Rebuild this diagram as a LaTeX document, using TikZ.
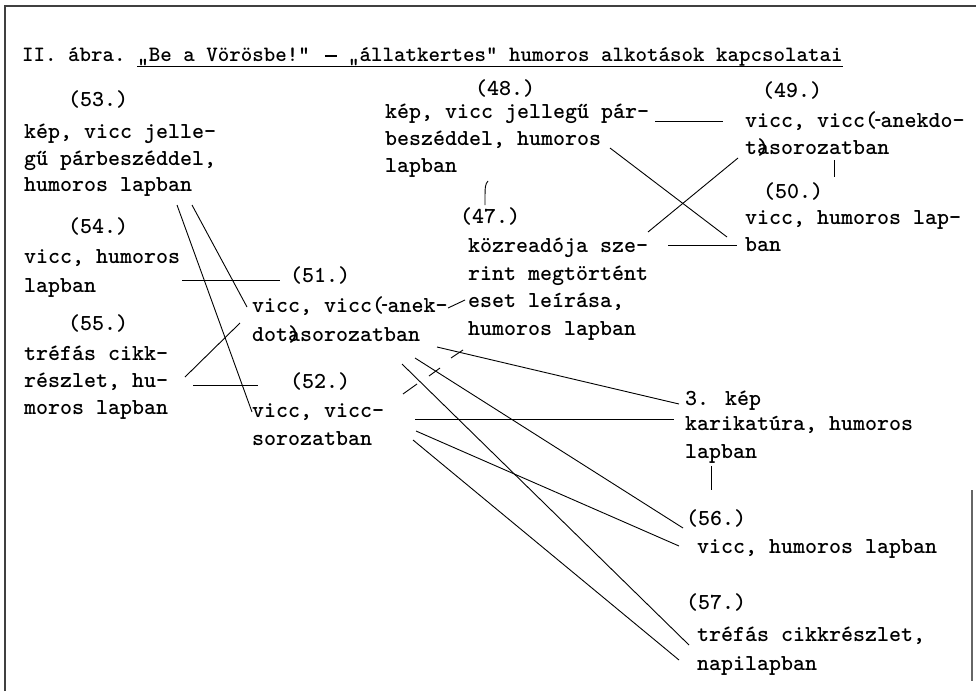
\documentclass[tikz,border=0pt]{standalone}
\usepackage{fontspec}
\usepackage{graphicx}
\newfontfamily\tw{lmmonolt10-bold.otf}
\newcommand\opd{(\kern-0.1em\makebox[0.25em]{\scalebox{0.55}[1]{-}}}
\newcommand\ap{\rlap{a})}
\newcommand\emd{\makebox[0.525em]{\rule[0.2em]{0.56em}{0.055em}}}
\begin{document}
\begin{tikzpicture}[x=1pt,y=-1pt,
  txt/.style={anchor=base west,inner sep=0pt,font=\tw\fontsize{22.86}{26}\selectfont},
  ttl/.style={anchor=base west,inner sep=0pt,font=\tw\fontsize{21.9}{25}\selectfont},
  con/.style={line width=0.9pt,black},
  frame/.style={line width=1.2pt,black!75}]
\useasboundingbox (0,0) rectangle (976,691);
% frame
\coordinate (f1) at (5,6); \coordinate (f2) at (976,6); \coordinate (f3) at (5,691);
\coordinate (f4) at (972,490); \coordinate (f5) at (972,681);
\draw[frame] (f3) -- (f1) -- (f2);
\draw[frame,black!60] (f4) -- (f5);
% title
\node[ttl] (title) at (22,61) {II. ábra.};
\node[ttl] (ttlu) at (137.2,61) {„Be a Vörösbe!” \emd{} „állatkertes” humoros alkotások kapcsolatai};
\draw[con] ([yshift=-5pt]ttlu.base west) -- ([yshift=-5pt]ttlu.base east);
% 48
\node[txt] (n48) at (475,95) {(48.)};
\node[txt] (t48a) at (385,118) {kép, vicc jellegű pár-};
\node[txt] (t48b) at (385,145) {beszéddel, humoros};
\node[txt] (t48c) at (385,172) {lapban};
% 49
\node[txt] (n49) at (762,97) {(49.)};
\node[txt] (t49a) at (745,127) {vicc, vicc\opd anekdo-};
\node[txt] (t49b) at (745,154) {t\ap sorozatban};
% 50
\node[txt] (n50) at (763,198) {(50.)};
\node[txt] (t50a) at (745,224) {vicc, humoros lap-};
\node[txt] (t50b) at (745,251) {ban};
% 47
\node[txt] (n47) at (460,223) {(47.)};
\node[txt] (t47a) at (468,252) {közreadója sze-};
\node[txt] (t47b) at (468,280) {rint megtörtént};
\node[txt] (t47c) at (468,307) {eset leírása,};
\node[txt] (t47d) at (468,335) {humoros lapban};
% 53
\node[txt] (n53) at (68,106) {(53.)};
\node[txt] (t53a) at (24,138) {kép, vicc jelle-};
\node[txt] (t53b) at (24,165) {gű párbeszéddel,};
\node[txt] (t53c) at (24,191) {humoros lapban};
% 54
\node[txt] (n54) at (68,233) {(54.)};
\node[txt] (t54a) at (24,263) {vicc, humoros};
\node[txt] (t54b) at (24,292) {lapban};
% 55
\node[txt] (n55) at (68,330) {(55.)};
\node[txt] (t55a) at (24,360) {tréfás cikk-};
\node[txt] (t55b) at (24,387) {részlet, hu-};
\node[txt] (t55c) at (24,414) {moros lapban};
% 51
\node[txt] (n51) at (290,282) {(51.)};
\node[txt] (t51a) at (252,312) {vicc, vicc\opd anek-};
\node[txt] (t51b) at (252,341) {dot\ap sorozatban};
% 52
\node[txt] (n52) at (290,388) {(52.)};
\node[txt] (t52a) at (252,417) {vicc, vicc-};
\node[txt] (t52b) at (252,445) {sorozatban};
% 3. kep
\node[txt] (nK) at (685,405) {3. kép};
\node[txt] (tKa) at (685,430) {karikatúra, humoros};
\node[txt] (tKb) at (685,458) {lapban};
% 56
\node[txt] (n56) at (686,525) {(56.)};
\node[txt] (t56) at (697,553) {vicc, humoros lapban};
% 57
\node[txt] (n57) at (686,609) {(57.)};
\node[txt] (t57a) at (697,641) {tréfás cikkrészlet,};
\node[txt] (t57b) at (697,670) {napilapban};
% connector end points
\coordinate (a1) at (655,121); \coordinate (a2) at (723,121);
\coordinate (b1) at (488,181); \coordinate (b2) at (485,205);
\coordinate (c1) at (834,160); \coordinate (c2) at (834,177);
\coordinate (d1) at (610,148); \coordinate (d2) at (727,237);
\coordinate (e1) at (648,232); \coordinate (e2) at (738,158);
\coordinate (g1) at (668,245); \coordinate (g2) at (737,245);
\coordinate (h1) at (711,466); \coordinate (h2) at (711,490);
\coordinate (i1) at (192,205); \coordinate (i2) at (247,307);
\coordinate (j1) at (177,205); \coordinate (j2) at (252,412);
\coordinate (k1) at (182,280); \coordinate (k2) at (280,280);
\coordinate (l1) at (185,377); \coordinate (l2) at (240,323);
\coordinate (m1) at (193,385); \coordinate (m2) at (258,385);
\coordinate (o1) at (448,308); \coordinate (o2) at (465,300);
\coordinate (p1) at (437,347); \coordinate (p2) at (679,404);
\coordinate (q1) at (415,358); \coordinate (q2) at (683,528);
\coordinate (r1) at (402,364); \coordinate (r2) at (689,645);
\coordinate (s1) at (415,419); \coordinate (s2) at (674,419);
\coordinate (u1) at (416,431); \coordinate (u2) at (679,546);
\coordinate (v1) at (413,440); \coordinate (v2) at (679,660);
\coordinate (w1) at (451,358); \coordinate (w2) at (463,350);
\coordinate (w3) at (429,376); \coordinate (w4) at (440,368);
\coordinate (w5) at (403,394); \coordinate (w6) at (417,384);
% connectors
\draw[con] (a1) -- (a2);
\draw[con] (b1) .. controls (485,185) .. (b2);
\draw[con] (c1) -- (c2);
\draw[con] (d1) -- (d2);
\draw[con] (e1) -- (e2);
\draw[con] (g1) -- (g2);
\draw[con] (h1) -- (h2);
\draw[con] (i1) -- (i2);
\draw[con] (j1) -- (j2);
\draw[con] (k1) -- (k2);
\draw[con] (l1) -- (l2);
\draw[con] (m1) -- (m2);
\draw[con] (o1) -- (o2);
\draw[con] (p1) -- (p2);
\draw[con] (q1) -- (q2);
\draw[con] (r1) -- (r2);
\draw[con] (s1) -- (s2);
\draw[con] (u1) -- (u2);
\draw[con] (v1) -- (v2);
\draw[con] (w1) -- (w2);
\draw[con] (w3) -- (w4);
\draw[con] (w5) -- (w6);
\end{tikzpicture}
\end{document}
